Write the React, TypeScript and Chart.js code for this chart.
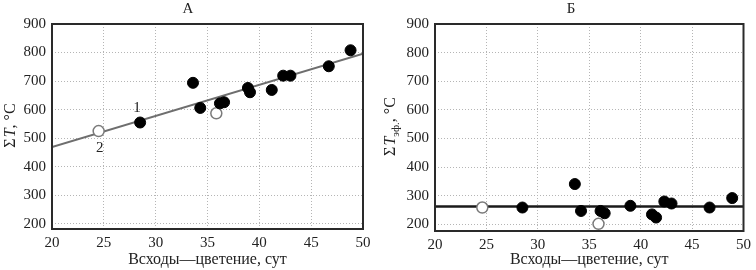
import React, { useEffect, useRef } from "react";
import { Chart, registerables } from "chart.js";
Chart.register(...registerables);

// ---- data ----
const xTicks = [20, 25, 30, 35, 40, 45, 50];
const yTicks = [200, 300, 400, 500, 600, 700, 800, 900];

const aFilledX = [28.5, 33.6, 34.3, 36.2, 36.6, 38.9, 39.1, 41.2, 42.3, 43.0, 46.7, 48.8];
const aFilledY = [555, 694, 606, 622, 626, 676, 661, 669, 719, 719, 752, 808];
const aOpenX = [24.5, 35.85];
const aOpenY = [525, 587];
const aLineX = [20, 50];
const aLineY = [469, 796];
const aLabels = ["1", "2"];
const aLabelX = [28.2, 24.6];
const aLabelY = [606, 466];

const bFilledX = [28.5, 33.6, 34.2, 36.1, 36.5, 39.0, 41.1, 41.5, 42.3, 43.0, 46.7, 48.9];
const bFilledY = [259, 341, 247, 247, 239, 265, 235, 224, 280, 273, 259, 292];
const bOpenX = [24.6, 35.9];
const bOpenY = [259, 202];
const bLineX = [20, 50];
const bLineY = [263, 263];

const FONT = "'Liberation Serif', 'Times New Roman', serif";

type Cfg = {
  title: string;
  titleX: number;
  filledX: number[]; filledY: number[];
  openX: number[]; openY: number[];
  lineX: number[]; lineY: number[];
  lineColor: string; lineWidth: number;
  labels: string[]; labelX: number[]; labelY: number[];
  yMin: number;
  yAxisWidth: number; padRight: number; xAxisHeight: number;
  ySub: string | null;
  yTitleX: number;
};

const zip = (xs: number[], ys: number[]) => xs.map((x, i) => ({ x, y: ys[i] }));

function drawYTitle(ctx: CanvasRenderingContext2D, cx: number, cy: number, sub: string | null) {
  const normal = `16px ${FONT}`;
  const italic = `italic 16px ${FONT}`;
  const small = `11px ${FONT}`;
  const segs: { t: string; f: string; dy: number }[] = [
    { t: "Σ", f: normal, dy: 0 },
    { t: "T", f: italic, dy: 0 },
  ];
  if (sub) segs.push({ t: sub, f: small, dy: 5 });
  segs.push({ t: ", °C", f: normal, dy: 0 });
  let total = 0;
  const widths = segs.map((s) => {
    ctx.font = s.f;
    const w = ctx.measureText(s.t).width + (s.t === "Σ" ? 1 : 0);
    total += w;
    return w;
  });
  ctx.save();
  ctx.translate(cx, cy);
  ctx.rotate(-Math.PI / 2);
  ctx.fillStyle = "#222";
  ctx.textBaseline = "middle";
  ctx.textAlign = "left";
  let x = -total / 2;
  segs.forEach((s, i) => {
    ctx.font = s.f;
    ctx.fillText(s.t, x, s.dy);
    x += widths[i];
  });
  ctx.restore();
}

function ChartPanel({ cfg }: { cfg: Cfg }) {
  const ref = useRef<HTMLCanvasElement | null>(null);
  useEffect(() => {
    if (!ref.current) return;
    const plugin = {
      id: "decor",
      afterDraw(chart: any) {
        const { ctx, chartArea } = chart;
        const { left, right, top, bottom } = chartArea;
        const xs = chart.scales.x;
        const ys = chart.scales.y;
        ctx.save();
        ctx.fillStyle = "#222";
        ctx.font = `15px ${FONT}`;
        ctx.textAlign = "center";
        ctx.textBaseline = "middle";
        cfg.labels.forEach((t, i) => {
          ctx.fillText(t, xs.getPixelForValue(cfg.labelX[i]), ys.getPixelForValue(cfg.labelY[i]));
        });
        // frame
        ctx.strokeStyle = "#2a2a2a";
        ctx.lineWidth = 2;
        ctx.strokeRect(left, top, right - left, bottom - top);
        // title
        ctx.font = `15px ${FONT}`;
        ctx.fillText(cfg.title, cfg.titleX, 9);
        // x title
        ctx.font = `16px ${FONT}`;
        ctx.fillText("Всходы—цветение, сут", (left + right) / 2, 260);
        ctx.restore();
        drawYTitle(ctx, cfg.yTitleX, (top + bottom) / 2 - 1, cfg.ySub);
      },
    };
    const tickFont = { family: FONT, size: 15 };
    const chart = new Chart(ref.current, {
      type: "scatter",
      data: {
        datasets: [
          {
            data: zip(cfg.filledX, cfg.filledY),
            pointRadius: 5.5,
            pointBackgroundColor: "#000",
            pointBorderColor: "#000",
            pointBorderWidth: 1,
            order: 0,
          },
          {
            data: zip(cfg.openX, cfg.openY),
            pointRadius: 5.5,
            pointBackgroundColor: "#fff",
            pointBorderColor: "#7a7a7a",
            pointBorderWidth: 1.5,
            order: 1,
          },
          {
            data: zip(cfg.lineX, cfg.lineY),
            showLine: true,
            pointRadius: 0,
            borderColor: cfg.lineColor,
            borderWidth: cfg.lineWidth,
            order: 2,
          } as any,
        ],
      },
      options: {
        responsive: false,
        animation: false,
        events: [],
        layout: { padding: { top: 24, right: cfg.padRight, left: 0, bottom: 0 } },
        plugins: { legend: { display: false }, tooltip: { enabled: false }, title: { display: false } },
        scales: {
          x: {
            type: "linear",
            min: 20,
            max: 50,
            afterBuildTicks: (s: any) => { s.ticks = xTicks.map((v) => ({ value: v })); },
            afterFit: (s: any) => { s.height = cfg.xAxisHeight; },
            ticks: { font: tickFont, color: "#222", padding: 5, maxRotation: 0 },
            grid: { color: "#b5b5b5", lineWidth: 1, drawTicks: false },
            border: { display: false, dash: [1, 2] },
          },
          y: {
            type: "linear",
            min: cfg.yMin,
            max: 900,
            afterBuildTicks: (s: any) => { s.ticks = yTicks.map((v) => ({ value: v })); },
            afterFit: (s: any) => { s.width = cfg.yAxisWidth; },
            ticks: { font: tickFont, color: "#222", padding: 6 },
            grid: { color: "#b5b5b5", lineWidth: 1, drawTicks: false },
            border: { display: false, dash: [1, 2] },
          },
        },
      } as any,
      plugins: [plugin],
    });
    return () => chart.destroy();
  }, [cfg]);
  return <canvas ref={ref} width={378} height={270} style={{ width: 378, height: 270, display: "block" }} />;
}

const cfgA: Cfg = {
  title: "А",
  titleX: 188,
  filledX: aFilledX, filledY: aFilledY,
  openX: aOpenX, openY: aOpenY,
  lineX: aLineX, lineY: aLineY,
  lineColor: "#6e6e6e", lineWidth: 2,
  labels: aLabels, labelX: aLabelX, labelY: aLabelY,
  yMin: 182,
  yAxisWidth: 52, padRight: 15, xAxisHeight: 41,
  ySub: null,
  yTitleX: 11,
};

const cfgB: Cfg = {
  title: "Б",
  titleX: 193,
  filledX: bFilledX, filledY: bFilledY,
  openX: bOpenX, openY: bOpenY,
  lineX: bLineX, lineY: bLineY,
  lineColor: "#1a1a1a", lineWidth: 2.5,
  labels: [], labelX: [], labelY: [],
  yMin: 177,
  yAxisWidth: 57, padRight: 10, xAxisHeight: 39,
  ySub: "эф.",
  yTitleX: 13,
};

export default function App() {
  return (
    <div style={{ position: "fixed", left: 0, top: 0, width: 756, height: 270, background: "#fff", display: "flex" }}>
      <ChartPanel cfg={cfgA} />
      <ChartPanel cfg={cfgB} />
    </div>
  );
}
